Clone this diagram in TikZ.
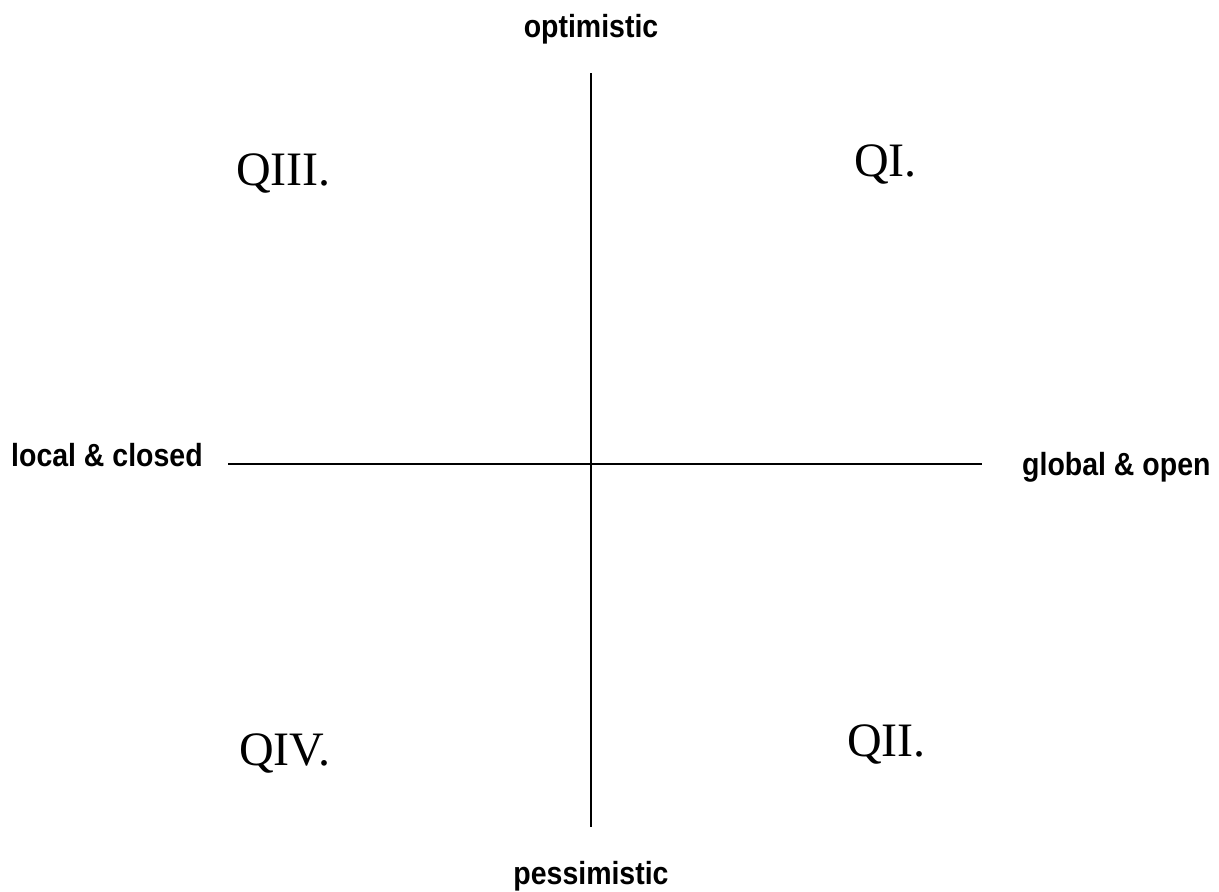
\documentclass[tikz,border=0pt]{standalone}
\usepackage{fontspec}
\newfontfamily\axisfont[FakeStretch=0.89]{Liberation Sans}
\newfontfamily\quadfont{Liberation Serif}
\usetikzlibrary{positioning}

\begin{document}
\begin{tikzpicture}[
    x=1pt, y=-1pt,
    axis/.style={line width=2pt, black},
    axislabel/.style={inner sep=0pt, font=\axisfont\bfseries\fontsize{32}{34}\selectfont},
    quadrant/.style={inner sep=0pt, anchor=base west, font=\quadfont\fontsize{48}{50}\selectfont}
]
    \useasboundingbox (0,0) rectangle (1219,892);

    % axis ends
    \coordinate (top) at (591,73);
    \coordinate (bot) at (591,827);
    \coordinate (left) at (228,464);
    \coordinate (right) at (982,464);

    \draw[axis] (top) -- (bot);
    \draw[axis] (left) -- (right);

    % axis labels
    \node[axislabel, anchor=base] (opt) at (591,37) {optimistic};
    \node[axislabel, anchor=base] (pes) at (591,884) {pessimistic};
    \node[axislabel, anchor=base west] (loc) at (11,466) {local \& closed};
    \node[axislabel, anchor=base west] (glo) at (1022,475) {global \& open};

    % quadrants
    \node[quadrant] (q3) at (236,185) {QIII.};
    \node[quadrant] (q1) at (854,176) {QI.};
    \node[quadrant] (q4) at (239,765) {QIV.};
    \node[quadrant] (q2) at (847,756) {QII.};

\end{tikzpicture}
\end{document}
